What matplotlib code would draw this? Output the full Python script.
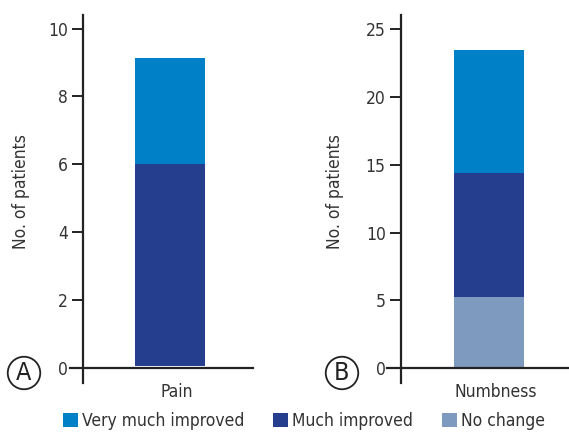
import matplotlib
matplotlib.use('Agg')
import matplotlib.pyplot as plt
from matplotlib.patches import Patch

plt.rcParams['font.family'] = ['DejaVu Sans']
plt.rcParams['font.stretch'] = 'condensed'

# data
series = ['Very much improved', 'Much improved', 'No change']
colors = ['#0080c6', '#253f8e', '#7e9bbf']

pain_cat = ['Pain']
pain_no_change = [0.0]
pain_much = [5.95]
pain_very_much = [3.1]

numb_cat = ['Numbness']
numb_no_change = [5.2]
numb_much = [9.1]
numb_very_much = [9.1]

base = 0.07  # bars float a hair above the axis line in the original
txt = '#333333'
fs = 12.5

W, H = 569, 433
fig = plt.figure(figsize=(W / 100, H / 100), dpi=100)


def px_axes(x0, x1, ytop, ybot):
    return fig.add_axes([x0 / W, 1 - ybot / H, (x1 - x0) / W, (ybot - ytop) / H])


def panel(ax, cat, nc, mi, vm, spine_x, bar_c, x0, x1, yrange, ticks):
    # x in pixel-like units so the bar is 70 px wide
    bw = 70.0
    ax.set_xlim((x0 - bar_c) / bw, (x1 - bar_c) / bw)
    ax.set_ylim(*yrange)
    pos = [0]
    b1 = [base + v for v in nc]
    if nc[0] > 0:
        ax.bar(pos, nc, bottom=[base], width=1.0, color=colors[2], edgecolor='none')
    ax.bar(pos, mi, bottom=b1, width=1.0, color=colors[1], edgecolor='none')
    b2 = [b + v for b, v in zip(b1, mi)]
    ax.bar(pos, vm, bottom=b2, width=1.0, color=colors[0], edgecolor='none')

    for s in ['top', 'right']:
        ax.spines[s].set_visible(False)
    ax.spines['left'].set_position(('data', (spine_x - bar_c) / bw))
    ax.spines['bottom'].set_position(('data', 0))
    for s in ['left', 'bottom']:
        ax.spines[s].set_linewidth(1.6)
        ax.spines[s].set_color('#222222')
    ax.set_yticks(ticks)
    ax.tick_params(axis='y', length=8, width=1.4, color='#222222', pad=3,
                   labelsize=fs, labelcolor=txt)
    ax.set_xticks([0.09])
    ax.set_xticklabels(cat)
    ax.tick_params(axis='x', length=0, pad=11, labelsize=fs, labelcolor=txt)
    ax.patch.set_alpha(0)


axA = px_axes(70, 253, 15, 383)
panel(axA, pain_cat, pain_no_change, pain_much, pain_very_much,
      83, 170, 70, 253, (-0.44, 10.4), [0, 2, 4, 6, 8, 10])

axB = px_axes(387, 568, 15, 383)
panel(axB, numb_cat, numb_no_change, numb_much, numb_very_much,
      401, 489, 387, 568, (-1.1, 26.05), [0, 5, 10, 15, 20, 25])

fig.text(21 / W, 1 - 192 / H, 'No. of patients', rotation=90, ha='center',
         va='center', fontsize=fs, color=txt)
fig.text(335 / W, 1 - 192 / H, 'No. of patients', rotation=90, ha='center',
         va='center', fontsize=fs, color=txt)

for lx, lab in [(24, 'A'), (342, 'B')]:
    fig.text(lx / W, 1 - 373 / H, lab, ha='center', va='center', fontsize=18,
             color='#222222',
             bbox=dict(boxstyle='circle,pad=0.17', fc='white', ec='#222222', lw=1.3))

handles = [Patch(facecolor=c, edgecolor='none') for c in colors]
fig.legend(handles, series, loc='center', bbox_to_anchor=(304 / W, 1 - 421 / H),
           ncol=3, frameon=False, fontsize=fs, handlelength=0.86, handleheight=0.86,
           handletextpad=0.23, columnspacing=1.67, borderaxespad=0, borderpad=0,
           labelcolor=txt)

fig.savefig('out.png', dpi=100)
